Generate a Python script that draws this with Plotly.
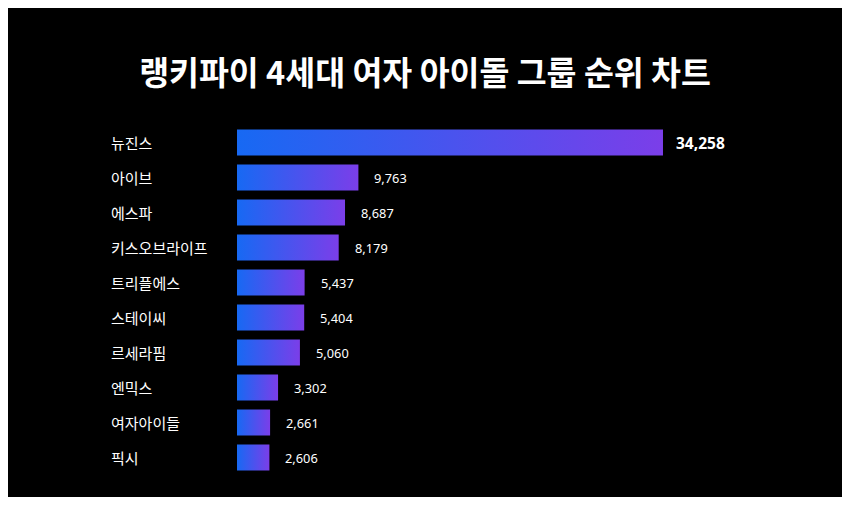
import plotly.graph_objects as go

groups = ["뉴진스", "아이브", "에스파", "키스오브라이프", "트리플에스",
          "스테이씨", "르세라핌", "엔믹스", "여자아이들", "픽시"]
scores = [34258, 9763, 8687, 8179, 5437, 5404, 5060, 3302, 2661, 2606]

title = "랭키파이 4세대 여자 아이돌 그룹 순위 차트"
font_family = "Noto Sans, Noto Sans CJK KR, sans-serif"
grad = [[0, "#1769f3"], [1, "#7b3ee9"]]
half = 0.37

fig = go.Figure()

# 막대 (가로 그라데이션)
for i, (g, v) in enumerate(zip(groups, scores)):
    fig.add_trace(go.Scatter(
        x=[0, v, v, 0, 0],
        y=[i - half, i - half, i + half, i + half, i - half],
        mode="lines",
        line=dict(width=0),
        fill="toself",
        fillgradient=dict(type="horizontal", colorscale=grad),
        name=g,
        hoverinfo="skip",
        showlegend=False,
    ))

annotations = []
for i, (g, v) in enumerate(zip(groups, scores)):
    annotations.append(dict(
        x=-0.2265, xref="paper", y=i, yref="y",
        text=g, showarrow=False, xanchor="left", yanchor="middle",
        font=dict(size=15, color="white", family=font_family),
    ))
    top = i == 0
    annotations.append(dict(
        x=v, xref="x", y=i, yref="y",
        text=f"<b>{v:,}</b>" if top else f"{v:,}",
        showarrow=False, xanchor="left", yanchor="middle",
        xshift=11 if top else 14,
        font=dict(size=15.5 if top else 12.8, color="white", family=font_family),
    ))

fig.update_layout(
    width=834, height=489,
    margin=dict(l=229, r=42, t=116.5, b=21.5),
    paper_bgcolor="black",
    plot_bgcolor="black",
    title=dict(
        text=f"<b>{title}</b>", x=0.5, xanchor="center",
        y=1 - 66 / 489, yanchor="middle",
        font=dict(size=32.5, color="white", family="Noto Sans CJK KR"),
    ),
    xaxis=dict(range=[0, 45276], visible=False, fixedrange=True),
    yaxis=dict(range=[9.5, -0.5], visible=False, fixedrange=True),
    annotations=annotations,
    showlegend=False,
)

fig.write_html("out.html")
